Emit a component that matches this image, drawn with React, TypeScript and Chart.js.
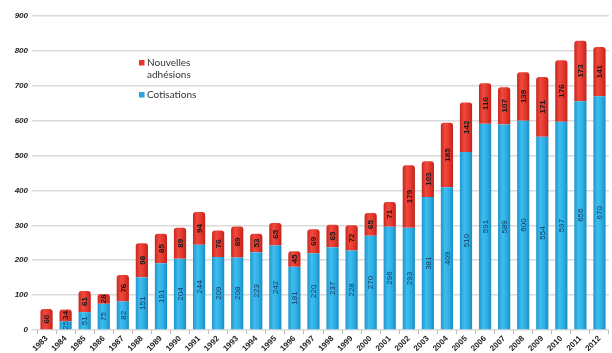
import React, { useEffect, useRef } from "react";
import { Chart, registerables } from "chart.js";
Chart.register(...registerables);

const years = ["1983","1984","1985","1986","1987","1988","1989","1990","1991","1992","1993","1994","1995","1996","1997","1998","1999","2000","2001","2002","2003","2004","2005","2006","2007","2008","2009","2010","2011","2012"];
const cotisations = [0,25,51,75,82,151,191,204,244,209,208,223,242,181,220,237,228,270,296,293,381,409,510,591,589,600,554,597,656,670];
const nouvelles = [60,34,61,28,76,98,85,89,94,76,89,53,65,45,69,65,72,65,71,179,103,185,142,116,107,139,171,176,173,141];
const yTicks = [0,100,200,300,400,500,600,700,800,900];

const BAR_PCT = 0.64;
const BLUE = ["#1d96cd", "#3fbdee", "#2badE3", "#1a8cc2"];
const RED = ["#c9261d", "#ef4a3e", "#e2352b", "#bf2219"];

function shade(pal: string[]) {
  return (c: any) => {
    const chart = c.chart;
    const xs = chart.scales && chart.scales.x;
    if (!xs || c.dataIndex === undefined || !chart.chartArea) return pal[2];
    const cx = xs.getPixelForValue(c.dataIndex);
    const cw = (chart.chartArea.right - chart.chartArea.left) / years.length;
    const w = cw * BAR_PCT;
    const x0 = cx - w / 2;
    const g = chart.ctx.createLinearGradient(x0, 0, x0 + w, 0);
    g.addColorStop(0, pal[0]);
    g.addColorStop(0.35, pal[1]);
    g.addColorStop(0.7, pal[2]);
    g.addColorStop(1, pal[3]);
    return g;
  };
}

const labelPlugin = {
  id: "vlabels",
  afterDatasetsDraw(chart: any) {
    const ctx = chart.ctx;
    chart.data.datasets.forEach((ds: any, di: number) => {
      const meta = chart.getDatasetMeta(di);
      meta.data.forEach((el: any, i: number) => {
        const v = ds.data[i];
        if (!v) return;
        const cy = (el.y + el.base) / 2;
        ctx.save();
        ctx.translate(el.x, cy);
        ctx.rotate(-Math.PI / 2);
        ctx.textAlign = "center";
        ctx.textBaseline = "middle";
        if (di === 1) {
          ctx.font = "bold 8px 'Liberation Sans', Arial, sans-serif";
          ctx.fillStyle = "#1a1a1a";
        } else {
          ctx.font = "8px 'Liberation Sans', Arial, sans-serif";
          ctx.fillStyle = "#163a63";
        }
        ctx.fillText(String(v), 0, 0.5);
        ctx.restore();
      });
    });
  },
};

const legendPlugin = {
  id: "customLegend",
  afterDraw(chart: any) {
    const ctx = chart.ctx;
    ctx.save();
    ctx.font = "10px Lato, 'Open Sans', sans-serif";
    ctx.textBaseline = "middle";
    ctx.textAlign = "left";
    const parts = chart.data.datasets[1].label.split(" ");
    ctx.fillStyle = "#e8352b";
    ctx.fillRect(139, 60, 5.5, 5.5);
    ctx.fillStyle = "#333";
    ctx.fillText(parts[0], 147, 63);
    ctx.fillText(parts[1], 147, 75);
    ctx.fillStyle = "#22a7e0";
    ctx.fillRect(139, 92, 5.5, 5.5);
    ctx.fillStyle = "#333";
    ctx.fillText(chart.data.datasets[0].label, 147, 95);
    ctx.restore();
  },
};

export default function App() {
  const ref = useRef<HTMLCanvasElement>(null);
  useEffect(() => {
    const chart = new Chart(ref.current!, {
      type: "bar",
      data: {
        labels: years,
        datasets: [
          {
            label: "Cotisations",
            data: cotisations,
            backgroundColor: shade(BLUE),
            barPercentage: BAR_PCT,
            categoryPercentage: 1,
            borderSkipped: false,
            borderRadius: 0,
          },
          {
            label: "Nouvelles adhésions",
            data: nouvelles,
            backgroundColor: shade(RED),
            barPercentage: BAR_PCT,
            categoryPercentage: 1,
            borderRadius: { topLeft: 3, topRight: 3, bottomLeft: 0, bottomRight: 0 },
            borderSkipped: false,
          },
        ],
      },
      options: {
        animation: false,
        responsive: false,
        maintainAspectRatio: false,
        layout: { padding: { left: 0, right: 3, top: 16, bottom: 0 } },
        plugins: { legend: { display: false }, tooltip: { enabled: false } },
        scales: {
          x: {
            stacked: true,
            grid: { display: true, offset: true, drawOnChartArea: false, tickLength: 4, color: "#bbb" },
            border: { display: false },
            ticks: {
              autoSkip: false,
              maxRotation: 45,
              minRotation: 45,
              padding: 0,
              color: "#222",
              font: { family: "'Liberation Sans', Arial, sans-serif", size: 8, weight: "bold" },
            },
            afterFit(s: any) { s.height = 23; },
          },
          y: {
            stacked: true,
            min: 0,
            max: 900,
            afterBuildTicks(s: any) { s.ticks = yTicks.map((v) => ({ value: v })); },
            grid: { color: "#dadada", lineWidth: 1.5, tickLength: 5 },
            border: { display: false },
            ticks: {
              padding: 4,
              color: "#222",
              font: { family: "'Liberation Sans', Arial, sans-serif", size: 8, weight: "bold", style: "italic" },
            },
            afterFit(s: any) { s.width = 37; },
          },
        },
      },
      plugins: [labelPlugin, legendPlugin],
    });
    return () => chart.destroy();
  }, []);
  return (
    <div style={{ position: "fixed", left: 0, top: 0, width: 612, height: 353, background: "#fff" }}>
      <canvas ref={ref} width={612} height={353} style={{ width: 612, height: 353 }} />
    </div>
  );
}
